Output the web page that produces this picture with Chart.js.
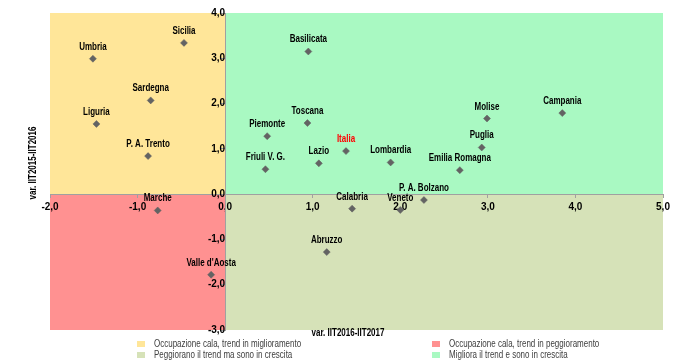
<!DOCTYPE html>
<html>
<head>
<meta charset="utf-8">
<script src="https://cdn.jsdelivr.net/npm/chart.js@4.4.0/dist/chart.umd.min.js"></script>
<style>
  html, body { margin: 0; padding: 0; background: #fff; }
  #wrap { width: 700px; height: 363px; position: relative; }
</style>
</head>
<body>
<div id="wrap"><canvas id="quadChart"></canvas></div>
<script>
// Regioni e variazioni
const regioni = ["Umbria", "Sicilia", "Sardegna", "Liguria", "P. A. Trento", "Basilicata", "Toscana",
  "Piemonte", "Italia", "Lazio", "Lombardia", "Friuli V. G.", "Emilia Romagna", "Molise", "Puglia",
  "Campania", "Marche", "Valle d'Aosta", "Calabria", "Veneto", "P. A. Bolzano", "Abruzzo"];
const varX = [-1.51, -0.47, -0.85, -1.47, -0.88, 0.95, 0.94, 0.48, 1.38, 1.07, 1.89, 0.46, 2.68, 2.99,
  2.93, 3.85, -0.77, -0.16, 1.45, 2.0, 2.27, 1.16];
const varY = [2.99, 3.34, 2.07, 1.55, 0.84, 3.15, 1.57, 1.28, 0.95, 0.68, 0.70, 0.55, 0.53, 1.67,
  1.03, 1.79, -0.36, -1.78, -0.32, -0.35, -0.13, -1.28];

// Range degli assi
const xRange = [-2, 5];
const yRange = [-3, 4];

// Quadranti: in alto a sinistra, in basso a sinistra, in basso a destra, in alto a destra
const legendLabels = ["Occupazione cala, trend in miglioramento", "Occupazione cala, trend in peggioramento",
  "Peggiorano il trend ma sono in crescita", "Migliora il trend e sono in crescita"];
const quadColors = ["#FFE699", "#FF9191", "#D6E2B8", "#A9F9C2"];

const titoloX = "var. IIT2016-IIT2017";
const titoloY = "var. IIT2015-IIT2016";

const FONT = "'Liberation Sans Narrow', 'Liberation Sans', Arial, sans-serif";
Chart.defaults.font.family = FONT;
Chart.defaults.color = "#000";

const punti = regioni.map((r, i) => ({ x: varX[i], y: varY[i] }));
const fmt = v => v.toFixed(1).replace(".", ",");

// testo "stretto" (tipo Arial Narrow) schiacciando in orizzontale
const NARROW = 0.8;
function testoStretto(ctx, txt, x, y) {
  ctx.save();
  ctx.translate(x, y);
  ctx.scale(NARROW, 1);
  ctx.fillText(txt, 0, 0);
  ctx.restore();
}

// Sfondo colorato dei quattro quadranti
const quadrantiPlugin = {
  id: "quadranti",
  beforeDraw(chart) {
    const { ctx, chartArea: a, scales: { x, y } } = chart;
    const x0 = x.getPixelForValue(0), y0 = y.getPixelForValue(0);
    ctx.save();
    ctx.fillStyle = quadColors[0]; ctx.fillRect(a.left, a.top, x0 - a.left, y0 - a.top);
    ctx.fillStyle = quadColors[1]; ctx.fillRect(a.left, y0, x0 - a.left, a.bottom - y0);
    ctx.fillStyle = quadColors[2]; ctx.fillRect(x0, y0, a.right - x0, a.bottom - y0);
    ctx.fillStyle = quadColors[3]; ctx.fillRect(x0, a.top, a.right - x0, y0 - a.top);
    ctx.restore();
  }
};

// Nomi delle regioni sopra i punti
const etichettePlugin = {
  id: "etichette",
  afterDatasetsDraw(chart) {
    const { ctx } = chart;
    const meta = chart.getDatasetMeta(0);
    ctx.save();
    ctx.font = "bold 10px " + FONT;
    ctx.textAlign = "center";
    ctx.textBaseline = "alphabetic";
    meta.data.forEach((pt, i) => {
      ctx.fillStyle = regioni[i] === "Italia" ? "#FF0000" : "#000";
      testoStretto(ctx, regioni[i], pt.x, pt.y - 9);
    });
    ctx.restore();
  }
};

// Titoli degli assi e legenda in basso
const extraPlugin = {
  id: "extra",
  afterDraw(chart) {
    const { ctx } = chart;
    ctx.save();
    ctx.font = "bold 10px " + FONT;
    ctx.fillStyle = "#000";
    ctx.textAlign = "center";
    ctx.textBaseline = "middle";
    testoStretto(ctx, titoloX, 348, 333);
    ctx.translate(33, 163);
    ctx.rotate(-Math.PI / 2);
    testoStretto(ctx, titoloY, 0, 0);
    ctx.restore();

    // riga 1: giallo, rosso; riga 2: oliva, verde
    ctx.save();
    ctx.font = "10px " + FONT;
    ctx.textBaseline = "middle";
    const colonne = [137, 432];
    const righe = [344, 355];
    legendLabels.forEach((lab, k) => {
      const cx = colonne[k % 2], cy = righe[Math.floor(k / 2)];
      ctx.fillStyle = quadColors[k];
      ctx.fillRect(cx, cy - 3, 8, 6);
      ctx.fillStyle = "#404040";
      testoStretto(ctx, lab, cx + 17, cy);
    });
    ctx.restore();
  }
};

new Chart("quadChart", {
  type: "scatter",
  data: {
    datasets: [{
      data: punti,
      pointStyle: "rectRot",
      pointRadius: 3.5,
      pointBorderWidth: 0.5,
      backgroundColor: "#636363",
      borderColor: "#636363"
    }]
  },
  options: {
    responsive: true,
    maintainAspectRatio: false,
    animation: false,
    layout: { padding: { left: 50, top: 12, right: 37, bottom: 33 } },
    plugins: { legend: { display: false }, tooltip: { enabled: false } },
    scales: {
      x: {
        min: xRange[0], max: xRange[1],
        position: { y: 0 },
        grid: { drawOnChartArea: false, drawTicks: true, tickLength: 3, color: "#A0A0A0" },
        border: { display: true, color: "#A0A0A0" },
        ticks: { stepSize: 1, callback: fmt, padding: 4, maxRotation: 0,
          font: { size: 10, weight: "bold" }, color: "#000" }
      },
      y: {
        min: yRange[0], max: yRange[1],
        position: { x: 0 },
        grid: { drawOnChartArea: false, drawTicks: true, tickLength: 4, color: "#A0A0A0" },
        border: { display: true, color: "#A0A0A0" },
        ticks: { stepSize: 1, callback: fmt, padding: 7,
          font: { size: 10, weight: "bold" }, color: "#000" }
      }
    }
  },
  plugins: [quadrantiPlugin, etichettePlugin, extraPlugin]
});
</script>
</body>
</html>
